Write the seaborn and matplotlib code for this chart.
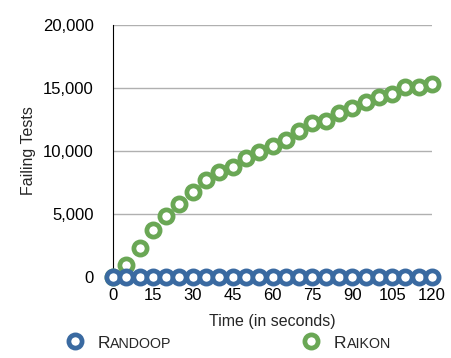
import matplotlib
matplotlib.use("Agg")
import pandas as pd
import matplotlib.pyplot as plt
import seaborn as sns

# Data
seconds = list(range(0, 121, 5))
randoop = [0] * 25
raikon = [0, 900, 2300, 3700, 4800, 5750, 6700, 7650, 8300, 8750,
          9450, 9950, 10400, 10850, 11550, 12200, 12350, 13050, 13400,
          13850, 14250, 14500, 15050, 15100, 15300]
x_ticks = list(range(0, 121, 15))
y_ticks = [0, 5000, 10000, 15000, 20000]

df = pd.DataFrame({'seconds': seconds * 2,
                   'failing': randoop + raikon,
                   'tool': ['Randoop'] * 25 + ['Raikon'] * 25})

sns.set_style('white')
plt.rcParams['font.family'] = ['Liberation Sans', 'DejaVu Sans']

fig = plt.figure(figsize=(4.51, 3.58), dpi=100)
ax = fig.add_axes([0.2506, 0.227, 0.958 - 0.2506, 0.930 - 0.227])

palette = {'Randoop': '#3a6aa1', 'Raikon': '#6aa755'}
msize, mew = 9.5, 3.4
for tool in ['Raikon', 'Randoop']:
    sub = df[df['tool'] == tool]
    sns.lineplot(data=sub, x='seconds', y='failing', ax=ax,
                 linestyle='none', marker='o', markersize=msize,
                 markerfacecolor='white', markeredgecolor=palette[tool],
                 markeredgewidth=mew, color=palette[tool], clip_on=False,
                 zorder=3, label=tool, legend=False)

ax.set_xlim(0, 120)
ax.set_ylim(0, 20000)
ax.set_xticks(x_ticks)
ax.set_yticks(y_ticks)
ax.set_yticklabels(['{:,}'.format(v) for v in y_ticks])
ax.yaxis.grid(True, color='#b0b0b0', linewidth=1)
ax.xaxis.grid(False)
for s in ['top', 'right']:
    ax.spines[s].set_visible(False)
ax.spines['left'].set_color('black')
ax.spines['bottom'].set_color('black')
ax.tick_params(axis='y', length=0, pad=14, labelsize=12, colors='black')
ax.tick_params(axis='x', length=0, pad=8, labelsize=12, colors='black')
ax.set_xlabel('Time (in seconds)', fontsize=11.5, labelpad=8)
ax.set_ylabel('Failing Tests', fontsize=11.5, labelpad=5)

# legend with small-caps style labels: big initial, rest added next to it
handles = [plt.Line2D([], [], linestyle='none', marker='o', markersize=msize,
                      markerfacecolor='white', markeredgecolor=palette[t],
                      markeredgewidth=mew) for t in ['Randoop', 'Raikon']]
leg = fig.legend(handles, ['R', 'R'], ncol=2, frameon=False,
                 loc='center left', bbox_to_anchor=(0.108, 0.042),
                 fontsize=12.5, handletextpad=0.7, columnspacing=11.0,
                 handlelength=1.2)
for txt, rest in zip(leg.get_texts(), ['ANDOOP', 'AIKON']):
    fig.canvas.draw()
    ax.annotate(rest, xy=(1, 0), xycoords=txt, xytext=(0.3, 0),
                textcoords='offset points', fontsize=10.3,
                va='bottom', ha='left')

fig.savefig('out.png', dpi=100)
